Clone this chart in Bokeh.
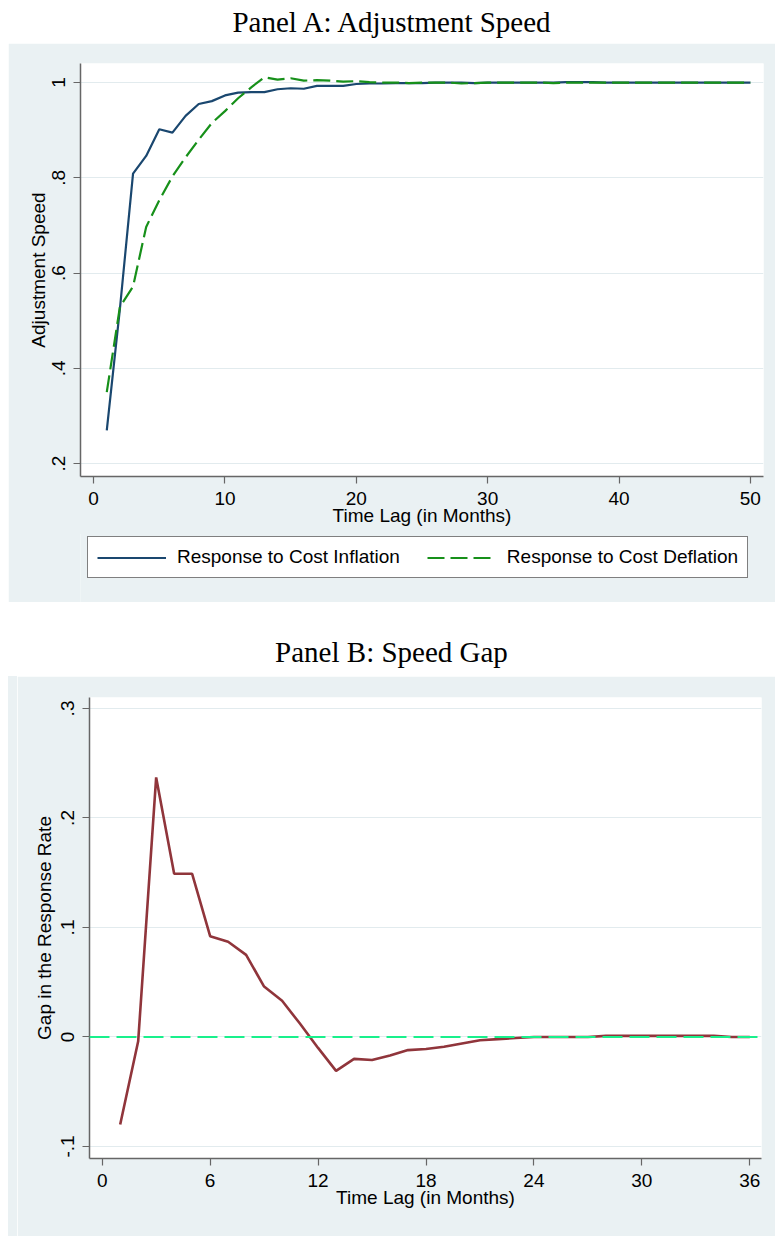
from bokeh.plotting import figure
from bokeh.models import FixedTicker, Range1d, Legend, LegendItem, Div, Span
from bokeh.layouts import column, row
from bokeh.embed import file_html
from bokeh.resources import INLINE

# ---------------- data ----------------
months_a = list(range(1, 51))
inflation = [0.270, 0.525, 0.809, 0.846, 0.902, 0.895, 0.930, 0.955, 0.961, 0.973,
             0.979, 0.980, 0.980, 0.986, 0.988, 0.987, 0.993, 0.993, 0.993, 0.997,
             0.998, 0.998, 0.999, 0.999, 0.999, 1.000, 1.000, 1.000, 0.999, 1.000,
             1.000, 1.000, 1.000, 1.000, 1.000, 1.001, 1.001, 1.001, 1.000, 1.000,
             1.000, 1.000, 1.000, 1.000, 1.000, 1.000, 1.000, 1.000, 1.000, 1.000]
deflation = [0.350, 0.529, 0.572, 0.697, 0.753, 0.803, 0.843, 0.880, 0.915, 0.940,
             0.967, 0.990, 1.011, 1.006, 1.009, 1.004, 1.005, 1.004, 1.002, 1.003,
             1.001, 1.000, 1.000, 0.999, 1.000, 1.000, 1.000, 0.998, 0.999, 1.000,
             1.000, 1.000, 1.000, 1.000, 0.999, 1.000, 1.000, 1.000, 1.000, 1.000,
             1.000, 1.000, 1.000, 1.000, 1.000, 1.000, 1.000, 1.000, 1.000, 1.000]
series_names = ["Response to Cost Inflation", "Response to Cost Deflation"]
x_ticks_a = [0, 10, 20, 30, 40, 50]
y_ticks_a = [0.2, 0.4, 0.6, 0.8, 1.0]
y_labels_a = [".2", ".4", ".6", ".8", "1"]

months_b = list(range(1, 37))
gap = [-0.080, -0.004, 0.237, 0.149, 0.149, 0.092, 0.087, 0.075, 0.046, 0.033,
       0.012, -0.010, -0.031, -0.020, -0.021, -0.017, -0.012, -0.011, -0.009, -0.006,
       -0.003, -0.002, -0.001, 0.000, 0.000, 0.000, 0.000, 0.001, 0.001, 0.001,
       0.001, 0.001, 0.001, 0.001, 0.000, 0.000]
x_ticks_b = [0, 6, 12, 18, 24, 30, 36]
y_ticks_b = [-0.1, 0.0, 0.1, 0.2, 0.3]
y_labels_b = ["-.1", "0", ".1", ".2", ".3"]

# ---------------- style ----------------
BG = "#EAF1F3"
GRID = "#E2EBEE"
AXC = "#666666"
FONT = "Liberation Sans"
FS = "19px"
W = 767
BLUE = "#1A476F"
GREEN = "#17901A"
DASH_A = "17 6"


def style_axes(p, xticks, yticks, ylabels, xtitle, ytitle, ytitle_standoff):
    p.xaxis.ticker = FixedTicker(ticks=xticks)
    p.yaxis.ticker = FixedTicker(ticks=yticks)
    p.yaxis.major_label_overrides = {t: l for t, l in zip(yticks, ylabels)}
    p.yaxis.major_label_orientation = "vertical"
    p.xaxis.axis_label = xtitle
    p.yaxis.axis_label = ytitle
    for ax in (p.xaxis, p.yaxis):
        ax.axis_line_color = AXC
        ax.axis_line_width = 1.5
        ax.major_tick_line_color = AXC
        ax.major_tick_line_width = 1.2
        ax.major_tick_out = 7
        ax.major_tick_in = 0
        ax.minor_tick_line_color = None
        ax.major_label_text_font = FONT
        ax.major_label_text_font_size = FS
        ax.major_label_text_color = "black"
        ax.axis_label_text_font = FONT
        ax.axis_label_text_font_size = FS
        ax.axis_label_text_font_style = "normal"
        ax.axis_label_text_color = "black"
    p.xaxis.major_label_standoff = 8
    p.xaxis.axis_label_standoff = -3
    p.yaxis.major_label_standoff = 8
    p.yaxis.axis_label_standoff = ytitle_standoff
    p.xgrid.grid_line_color = None
    p.ygrid.grid_line_color = GRID
    p.ygrid.grid_line_width = 1
    p.outline_line_color = None
    p.background_fill_color = "white"
    p.border_fill_color = BG


def title_div(text, height, pad):
    html = ('<div style="box-sizing:border-box;height:%dpx;padding-top:%dpx;'
            'font-family:\'Liberation Serif\';font-size:29px;line-height:28px;'
            'text-align:center;width:%dpx;color:black;">%s</div>'
            % (height, pad, W, text))
    return Div(text=html, width=W, height=height, margin=(0, 0, 0, 8))


# ---------------- Panel A ----------------
title_a = title_div("Panel A: Adjustment Speed", 43, 8)

pa = figure(frame_width=683, frame_height=413, output_backend="svg",
            toolbar_location=None, margin=(0, 0, 0, 8),
            x_range=Range1d(-1.0, 51.0), y_range=Range1d(0.173, 1.040),
            min_border_left=72, min_border_right=12, min_border_top=20,
            min_border_bottom=58)
style_axes(pa, x_ticks_a, y_ticks_a, y_labels_a, "Time Lag (in Months)",
           "Adjustment Speed", 1)

pa.line(months_a, inflation, line_color=BLUE, line_width=2.2)
pa.line(months_a, deflation, line_color=GREEN, line_width=2.2, line_dash=DASH_A)

# legend strip (part of Panel A's grey graph region)
pl = figure(frame_width=W, frame_height=69, output_backend="svg",
            toolbar_location=None, margin=(-1, 0, 0, 8),
            x_axis_type=None, y_axis_type=None,
            min_border_left=0, min_border_right=0, min_border_top=0,
            min_border_bottom=0)
pl.background_fill_color = BG
pl.border_fill_color = BG
pl.outline_line_color = None
pl.grid.visible = False
k_inf = pl.line(months_a, inflation, line_color=BLUE, line_width=2.2, visible=False)
k_def = pl.line(months_a, deflation, line_color=GREEN, line_width=2.2,
                line_dash=DASH_A, visible=False)
legend = Legend(items=[LegendItem(label=series_names[0], renderers=[k_inf]),
                       LegendItem(label=series_names[1], renderers=[k_def])],
                orientation="horizontal", location=(79, 24),
                glyph_width=69, glyph_height=21, label_height=21,
                label_standoff=11, spacing=27, padding=9, margin=0,
                label_text_font=FONT, label_text_font_size=FS,
                label_text_color="black", click_policy="none",
                border_line_color="black", border_line_width=1,
                background_fill_color="white", background_fill_alpha=1.0)
pl.add_layout(legend, "center")

# ---------------- Panel B ----------------
title_b = title_div("Panel B: Speed Gap", 74, 36)

pb = figure(frame_width=672, frame_height=461, output_backend="svg",
            toolbar_location=None, margin=0,
            x_range=Range1d(-0.706, 36.65), y_range=Range1d(-0.111, 0.310),
            min_border_left=72, min_border_right=14, min_border_top=21,
            min_border_bottom=78)
style_axes(pb, x_ticks_b, y_ticks_b, y_labels_b, "Time Lag (in Months)",
           "Gap in the Response Rate", 4)

pb.line(months_b, gap, line_color="#90353B", line_width=2.6)
zero = Span(location=0, dimension="width", line_color="#19F08C", line_width=2,
            line_dash="20 7")
pb.add_layout(zero)

# grey strip so Panel B's graph region starts at the same left edge as Panel A
strip_b = Div(text='<div style="width:9px;height:560px;background:%s;"></div>' % BG,
              width=9, height=560, margin=0)
row_b = row(strip_b, pb, spacing=0, margin=(0, 0, 0, 8))

layout = column(title_a, pa, pl, title_b, row_b, spacing=0)
open("out.html", "w").write(file_html(layout, INLINE))
